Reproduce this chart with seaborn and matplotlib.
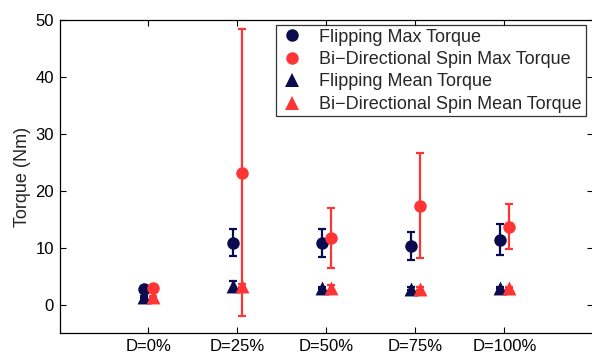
import numpy as np
import pandas as pd
import matplotlib
matplotlib.use("Agg")
import matplotlib.pyplot as plt
from matplotlib.lines import Line2D
import seaborn as sns

categories = ["D=0%", "D=25%", "D=50%", "D=75%", "D=100%"]
flip_max = [2.8, 10.9, 10.8, 10.3, 11.4]
flip_max_err = [0.2, 2.4, 2.45, 2.4, 2.7]
spin_max = [2.9, 23.2, 11.7, 17.4, 13.7]
spin_max_err = [0.2, 25.2, 5.35, 9.15, 4.0]
flip_mean = [1.3, 3.3, 2.95, 2.8, 2.95]
flip_mean_err = [0.2, 0.9, 0.2, 0.2, 0.2]
spin_mean = [1.3, 3.3, 2.85, 2.8, 2.95]
spin_mean_err = [0.2, 0.3, 0.5, 0.2, 0.2]
series_names = ["Flipping Max Torque", "Bi\u2212Directional Spin Max Torque",
                "Flipping Mean Torque", "Bi\u2212Directional Spin Mean Torque"]

NAVY = "#0b0b4f"
RED = "#ff3535"

sns.set_style("ticks")
plt.rcParams['font.family'] = ['Liberation Sans', 'DejaVu Sans']

series = [
    (series_names[0], flip_max, flip_max_err, -0.05, NAVY, "o"),
    (series_names[1], spin_max, spin_max_err, 0.05, RED, "o"),
    (series_names[2], flip_mean, flip_mean_err, -0.05, NAVY, "^"),
    (series_names[3], spin_mean, spin_mean_err, 0.05, RED, "^"),
]

rows = []
for name, vals, errs, off, col, mk in series:
    for i, (v, e) in enumerate(zip(vals, errs)):
        rows.append(dict(series=name, pos=i + 1 + off, value=v, err=e))
df = pd.DataFrame(rows)

fig = plt.figure(figsize=(5.92, 3.54), dpi=100)
ax = fig.add_axes([59.5 / 592, 21 / 354, (593.3 - 59.5) / 592, 313 / 354])

# error bars
for name, vals, errs, off, col, mk in series:
    sub = df[df.series == name]
    ax.errorbar(sub.pos, sub.value, yerr=sub.err, fmt="none", ecolor=col,
                elinewidth=1.6, capsize=3.0, capthick=1.6, zorder=2)

def msize(mk):
    return 9.0 if mk == "o" else 10.0

for name, vals, errs, off, col, mk in series:
    sub = df[df.series == name]
    sns.scatterplot(data=sub, x="pos", y="value", color=col, marker=mk,
                    s=msize(mk) ** 2, linewidth=0,
                    ax=ax, legend=False, zorder=3)

ax.set_xlim(0, 6)
ax.set_ylim(-5, 50)
ax.set_xticks(range(1, 6))
ax.set_xticklabels(categories)
ax.set_yticks([0, 10, 20, 30, 40, 50])
ax.set_xlabel("")
ax.set_ylabel("Torque (Nm)", fontsize=13, labelpad=3)
ax.tick_params(direction="in", length=4.5, width=0.8, top=True, right=True,
               labelsize=12, pad=4, colors="black")
for sp in ax.spines.values():
    sp.set_visible(True)
    sp.set_linewidth(0.9)
    sp.set_color("black")

handles = [Line2D([], [], linestyle="none", marker=s[5], color=s[4],
                  markersize=msize(s[5]), markeredgewidth=0)
           for s in series]
leg = ax.legend(handles, series_names, loc="upper left",
                bbox_to_anchor=((276 - 59.5) / 533.8, (333 - 25) / 313),
                borderaxespad=0, fontsize=13, frameon=True, fancybox=False,
                handlelength=1.4, handletextpad=0.8, labelspacing=0.3,
                borderpad=0.2)
leg.get_frame().set_edgecolor("black")
leg.get_frame().set_linewidth(0.9)

fig.savefig("out.png", dpi=100)
